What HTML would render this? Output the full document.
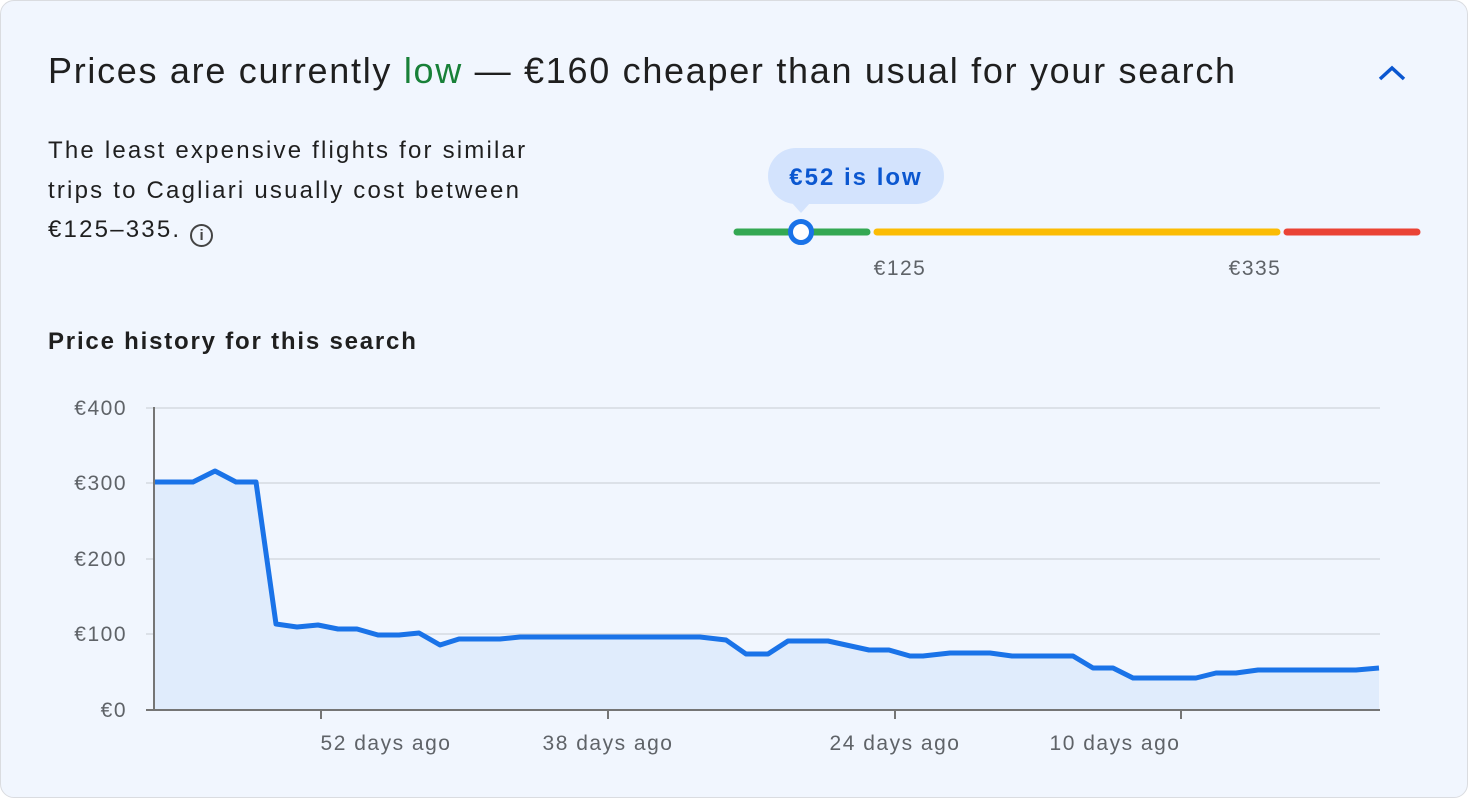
<!DOCTYPE html>
<html><head><meta charset="utf-8"><style>
body{margin:0;width:1468px;height:798px;background:#fff;font-family:"Liberation Sans",Arial,sans-serif;overflow:hidden}
.card{position:absolute;left:0;top:0;width:1466px;height:796px;border:1px solid #dadce0;border-radius:14px;background:#f1f6fe}
.t{position:absolute;white-space:nowrap;color:#1f1f1f}
</style></head><body>
<div class="card"></div>
<div class="t" style="left:48px;top:50px;font-size:36px;letter-spacing:1.7px">Prices are currently <span style="color:#188038">low</span> — €160 cheaper than usual for your search</div>
<svg style="position:absolute;left:1376px;top:62px" width="32" height="24"><path d="M4 17 L16 6 L28 17" fill="none" stroke="#0b57d0" stroke-width="3.5"/></svg>
<div class="t" style="left:48px;top:131px;font-size:24px;line-height:39.5px;letter-spacing:2.2px;color:#1f1f1f">The least expensive flights for similar<br>trips to Cagliari usually cost between<br>€125–335. <span style="display:inline-block;width:23px;height:23px;border:2px solid #444;border-radius:50%;font-size:15px;line-height:20px;text-align:center;vertical-align:-3px;color:#444;box-sizing:border-box;font-weight:bold;letter-spacing:0">i</span></div>
<div style="position:absolute;left:768px;top:148px;width:176px;height:56px;background:#d3e3fd;border-radius:28px;color:#0b57d0;font-size:24px;font-weight:bold;text-align:center;line-height:60px;letter-spacing:2px">€52 is low</div>
<div style="position:absolute;left:792px;top:203px;width:0;height:0;border-left:9px solid transparent;border-right:9px solid transparent;border-top:10px solid #d3e3fd"></div>
<svg style="position:absolute;left:0;top:0" width="1468" height="798">
<g stroke-linecap="round" stroke-width="7">
<line x1="737" y1="232" x2="867" y2="232" stroke="#34a853"/>
<line x1="877" y1="232" x2="1277" y2="232" stroke="#fbbc04"/>
<line x1="1287" y1="232" x2="1417" y2="232" stroke="#ea4335"/>
</g>
<circle cx="801" cy="232" r="10.5" fill="#fff" stroke="#1a73e8" stroke-width="5"/>
<g stroke="#d6dae0" stroke-width="1.5">
<line x1="146" y1="408" x2="1380" y2="408"/><line x1="146" y1="483" x2="1380" y2="483"/><line x1="146" y1="559" x2="1380" y2="559"/><line x1="146" y1="634" x2="1380" y2="634"/>
</g>
<polygon fill="#e0ecfc" points="154,710 154,482 193,482 215,471 236,482 256,482 276,624 297,627 318,625 338,629 357,629 378,635 399,635 419,633 440,645 459,639 500,639 520,637 700,637 726,640 746,654 768,654 788,641 828,641 869,650 889,650 910,656 923,656 950,653 990,653 1012,656 1073,656 1093,668 1113,668 1133,678 1196,678 1216,673 1236,673 1258,670 1356,670 1379,668 1379,710"/>
<polyline fill="none" stroke="#1a73e8" stroke-width="5" stroke-linejoin="round" points="154,482 193,482 215,471 236,482 256,482 276,624 297,627 318,625 338,629 357,629 378,635 399,635 419,633 440,645 459,639 500,639 520,637 700,637 726,640 746,654 768,654 788,641 828,641 869,650 889,650 910,656 923,656 950,653 990,653 1012,656 1073,656 1093,668 1113,668 1133,678 1196,678 1216,673 1236,673 1258,670 1356,670 1379,668"/>
<g stroke="#757575" stroke-width="2">
<line x1="154" y1="407" x2="154" y2="711"/><line x1="146" y1="710" x2="1380" y2="710"/>
<line x1="321" y1="710" x2="321" y2="719"/><line x1="608" y1="710" x2="608" y2="719"/><line x1="895" y1="710" x2="895" y2="719"/><line x1="1181" y1="710" x2="1181" y2="719"/>
</g>
<g font-family="Liberation Sans,Arial,sans-serif" font-size="21" fill="#5f6368" letter-spacing="1.5">
<text x="127" y="415" text-anchor="end">€400</text><text x="127" y="490" text-anchor="end">€300</text><text x="127" y="566" text-anchor="end">€200</text><text x="127" y="641" text-anchor="end">€100</text><text x="127" y="717" text-anchor="end">€0</text>
<text x="386" y="750" text-anchor="middle">52 days ago</text><text x="608" y="750" text-anchor="middle">38 days ago</text><text x="895" y="750" text-anchor="middle">24 days ago</text><text x="1115" y="750" text-anchor="middle">10 days ago</text>
<text x="900" y="275" text-anchor="middle">€125</text><text x="1255" y="275" text-anchor="middle">€335</text>
</g>
<text x="48" y="349" font-family="Liberation Sans,Arial,sans-serif" font-size="24" font-weight="bold" fill="#1f1f1f" letter-spacing="1.8">Price history for this search</text>
</svg>
</body></html>
